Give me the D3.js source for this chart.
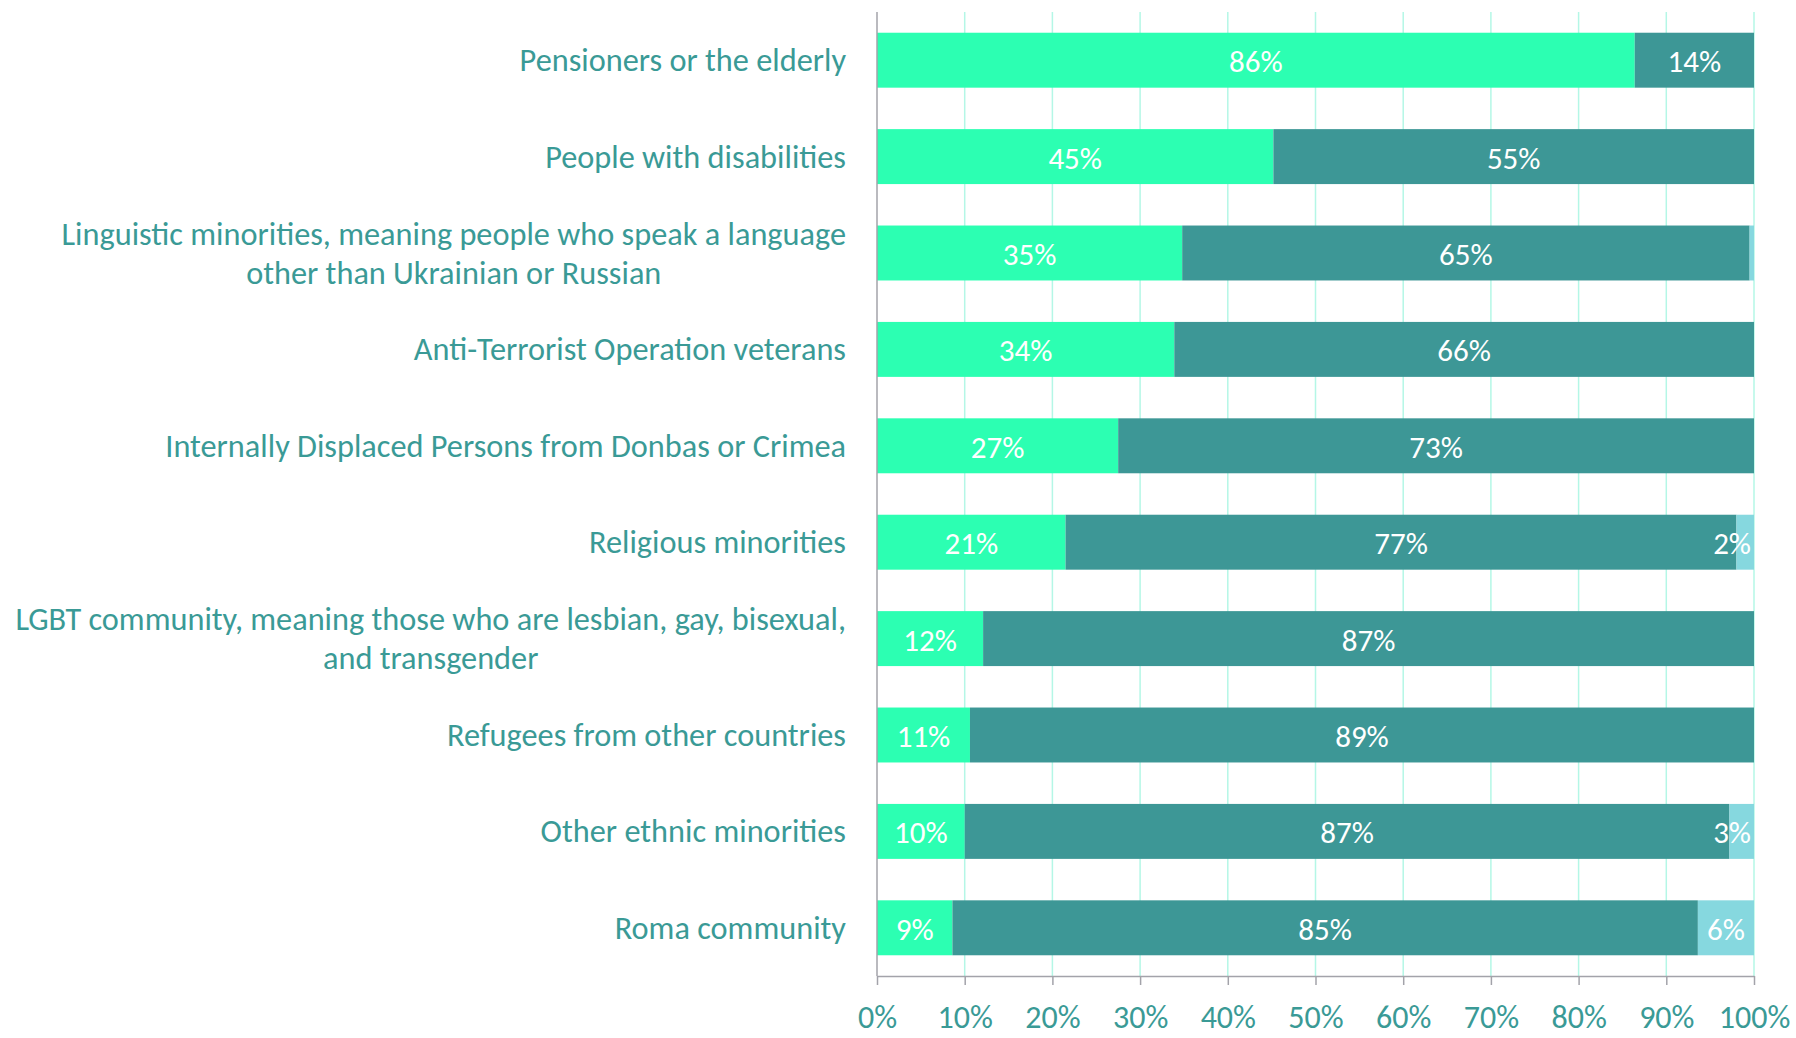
<!DOCTYPE html>
<html><head><meta charset="utf-8">
<script src="https://cdn.jsdelivr.net/npm/d3@7"></script>
<style>
html,body{margin:0;padding:0;background:#fff;}
svg{display:block;}
text{font-family:Carlito, Lato, "Open Sans", sans-serif;}
</style></head>
<body>
<svg id="c" width="1796" height="1038"></svg>
<script>
const categories = [
  "Pensioners or the elderly",
  "People with disabilities",
  "Linguistic minorities, meaning people who speak a language\nother than Ukrainian or Russian",
  "Anti-Terrorist Operation veterans",
  "Internally Displaced Persons from Donbas or Crimea",
  "Religious minorities",
  "LGBT community, meaning those who are lesbian, gay, bisexual,\nand transgender",
  "Refugees from other countries",
  "Other ethnic minorities",
  "Roma community"
];
const seriesGreen = [86.4, 45.2, 34.8, 33.9, 27.5, 21.5, 12.1, 10.6, 10.0, 8.6];
const seriesTeal  = [13.6, 54.8, 64.7, 66.1, 72.5, 76.5, 87.9, 89.4, 87.2, 85.0];
const seriesLight = [0, 0, 0.5, 0, 0, 2.0, 0, 0, 2.8, 6.4];
const labelsGreen = ["86%","45%","35%","34%","27%","21%","12%","11%","10%","9%"];
const labelsTeal  = ["14%","55%","65%","66%","73%","77%","87%","89%","87%","85%"];
const labelsLight = ["","","","","","2%","","","3%","6%"];
const tickValues = [0,10,20,30,40,50,60,70,80,90,100];
const tickLabels = ["0%","10%","20%","30%","40%","50%","60%","70%","80%","90%","100%"];

const colors = ["#2cffb2", "#3d9796", "#86d8df"];
const textColor = "#3a9a96";
const gridColor = "#b4f7e6";
const axisColor = "#a3a3aa";

const svg = d3.select("#c");

// font size fitted so the longest label matches the reference width
const probe = svg.append("text").attr("font-size", 29)
  .text("LGBT community, meaning those who are lesbian, gay, bisexual,");
const w = probe.node().getComputedTextLength();
probe.remove();
const fs = Math.max(20, Math.min(34, 29 * 831 / w));

const x = d3.scaleLinear().domain([0, 100]).range([877, 1754]);
const y = d3.scaleBand().domain(categories).range([12, 976]).paddingInner(0.43).paddingOuter(0.215);

// gridlines
svg.append("g").selectAll("line").data(tickValues.filter(d => d > 0)).join("line")
  .attr("x1", d => x(d)).attr("x2", d => x(d))
  .attr("y1", 12).attr("y2", 976)
  .attr("stroke", gridColor).attr("stroke-width", 1.5);

// bars
const rows = categories.map((c, i) => ({
  c, segs: [
    {v: seriesGreen[i], lab: labelsGreen[i], col: colors[0]},
    {v: seriesTeal[i], lab: labelsTeal[i], col: colors[1]},
    {v: seriesLight[i], lab: labelsLight[i], col: colors[2]}
  ]
}));
rows.forEach(r => { let acc = 0; r.segs.forEach(s => { s.x0 = acc; acc += s.v; s.x1 = acc; }); });

const barFs = Math.min(fs, 31);
const g = svg.append("g");
rows.forEach(r => {
  const gy = y(r.c), bh = y.bandwidth();
  r.segs.filter(s => s.v > 0).forEach(s => {
    g.append("rect").attr("x", x(s.x0)).attr("y", gy)
      .attr("width", x(s.x1) - x(s.x0)).attr("height", bh).attr("fill", s.col);
  });
  r.segs.filter(s => s.v > 0 && s.lab).forEach(s => {
    const t = g.append("text").attr("font-size", barFs).attr("fill", "#fff")
      .attr("text-anchor", "middle").attr("dominant-baseline", "central")
      .attr("x", (x(s.x0) + x(s.x1)) / 2).attr("y", gy + bh / 2 + 1).text(s.lab);
    const tw = t.node().getComputedTextLength();
    const cx = (x(s.x0) + x(s.x1)) / 2;
    if (cx + tw / 2 > x(100) - 3) t.attr("x", x(100) - 3 - tw / 2);
  });
});

// category labels
const lab = svg.append("g");
categories.forEach(c => {
  const lines = c.split("\n");
  const cy = y(c) + y.bandwidth() / 2;
  const lh = 39;
  const t = lab.append("text").attr("font-size", fs).attr("fill", textColor)
    .attr("dominant-baseline", "central");
  lines.forEach((ln, k) => {
    t.append("tspan").attr("y", cy + (k - (lines.length - 1) / 2) * lh).text(ln);
  });
  if (lines.length === 1) {
    t.attr("text-anchor", "end").selectAll("tspan").attr("x", 846);
  } else {
    let maxW = 0;
    t.selectAll("tspan").each(function(){ maxW = Math.max(maxW, this.getComputedTextLength()); });
    t.attr("text-anchor", "middle").selectAll("tspan").attr("x", 846 - maxW / 2);
  }
});

// x axis
const ax = svg.append("g").attr("transform", "translate(0,976)")
  .call(d3.axisBottom(x).tickValues(tickValues).tickFormat((d, i) => tickLabels[i]).tickSize(9).tickSizeOuter(0).tickPadding(20));
ax.select(".domain").attr("stroke", axisColor).attr("stroke-width", 1.5);
ax.selectAll(".tick line").attr("stroke", axisColor).attr("stroke-width", 1.5);
ax.selectAll(".tick text").attr("font-size", Math.min(fs, 32)).attr("fill", textColor)
  .attr("font-family", "Carlito, Lato, 'Open Sans', sans-serif");

// vertical axis line
svg.append("line").attr("x1", x(0)).attr("x2", x(0)).attr("y1", 12).attr("y2", 976)
  .attr("stroke", axisColor).attr("stroke-width", 1.5);
</script>
</body></html>
